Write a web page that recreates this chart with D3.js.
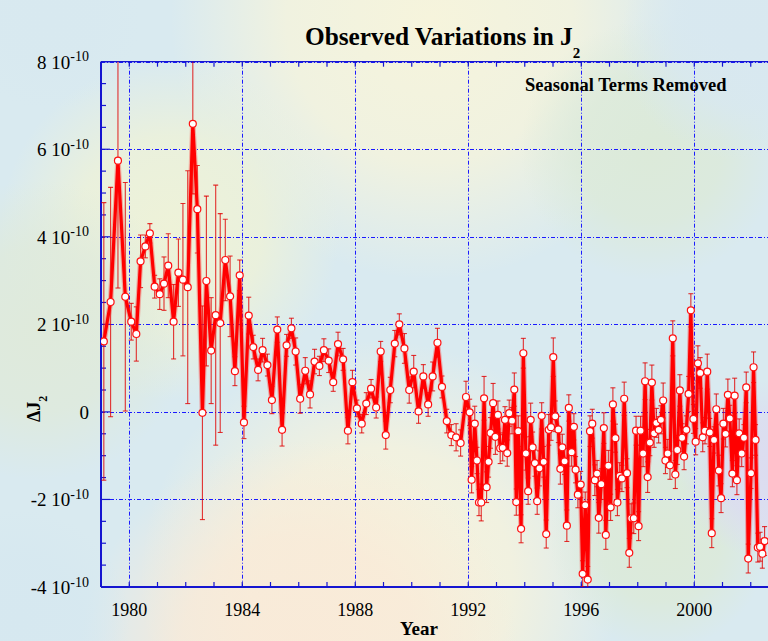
<!DOCTYPE html>
<html>
<head>
<meta charset="utf-8">
<script src="https://cdn.jsdelivr.net/npm/d3@7"></script>
<style>
	body { margin: 0; overflow: hidden; background: #d9eaf0; }
	text { font-family: "Liberation Serif", "Times New Roman", serif; }
</style>
</head>
<body>
<div class="container"></div>
<script>
// observation epochs (decimal year)
var years = [
	1979.10,1979.34,1979.60,1979.86,1980.07,1980.25,1980.40,1980.57,1980.73,1980.90,
	1981.08,1981.23,1981.38,1981.57,1981.74,1981.90,1982.07,1982.25,1982.41,1982.59,
	1982.73,1982.90,1983.06,1983.22,1983.40,1983.57,1983.74,1983.91,1984.06,1984.23,
	1984.39,1984.56,1984.72,1984.89,1985.05,1985.24,1985.41,1985.57,1985.74,1985.89,
	1986.05,1986.23,1986.40,1986.56,1986.73,1986.89,1987.06,1987.22,1987.39,1987.57,
	1987.74,1987.90,1988.06,1988.23,1988.39,1988.56,1988.74,1988.90,1989.08,1989.24,
	1989.40,1989.56,1989.74,1989.91,1990.07,1990.24,1990.41,1990.58,1990.74,1990.91,
	1991.07,1991.24,1991.40,1991.57,1991.73,
	1991.92,1992.05,1992.12,1992.23,1992.31,1992.38,1992.46,1992.56,1992.65,1992.72,
	1992.79,1992.88,1992.96,1993.05,1993.13,1993.22,1993.30,1993.38,1993.45,1993.55,
	1993.63,1993.70,1993.77,1993.87,1993.95,1994.04,1994.12,1994.21,1994.28,1994.36,
	1994.44,1994.52,1994.60,1994.67,1994.76,1994.85,1994.93,1995.01,1995.08,1995.19,
	1995.26,1995.33,1995.41,1995.49,1995.56,1995.66,1995.74,1995.80,1995.88,1995.98,
	1996.05,1996.14,1996.23,1996.31,1996.39,1996.48,1996.56,1996.62,1996.71,1996.80,
	1996.87,1996.96,1997.04,1997.12,1997.21,1997.28,1997.36,1997.44,1997.52,1997.62,
	1997.70,1997.77,1997.86,1997.94,1998.03,1998.10,1998.19,1998.26,1998.35,1998.43,
	1998.50,1998.58,1998.66,1998.74,1998.82,1998.90,1998.98,1999.06,1999.14,1999.24,
	1999.33,1999.40,1999.49,1999.57,1999.64,1999.72,1999.80,1999.88,1999.97,2000.05,
	2000.13,2000.21,2000.30,2000.38,2000.46,2000.55,2000.62,2000.70,2000.78,2000.87,
	2000.95,2001.03,2001.11,2001.19,2001.26,2001.35,2001.43,2001.51,2001.59,2001.68,
	2001.76,2001.84,2001.91,2002.01,2002.10,2002.17,2002.25,2002.33,2002.41,2002.49
];

// delta J2, units of 1e-10
var dJ2 = [
	1.61,2.51,5.74,2.63,2.06,1.78,3.44,3.78,4.08,2.86,
	2.69,2.93,3.34,2.06,3.18,3.02,2.85,6.58,4.63,-0.02,
	2.99,1.40,2.21,2.03,3.47,2.64,0.93,3.12,-0.24,2.20,
	1.48,0.96,1.41,1.07,0.27,1.88,-0.41,1.52,1.91,1.38,
	0.30,0.94,0.40,1.15,1.05,1.41,1.17,0.68,1.55,1.20,
	-0.43,0.68,0.08,-0.27,0.19,0.53,0.10,1.38,-0.53,0.50,
	1.56,2.00,1.45,0.50,0.92,0.01,0.81,0.17,0.81,1.58,
	0.57,-0.21,-0.53,-0.58,-0.71,
	0.34,-0.01,-1.55,-0.27,-1.11,-2.07,-2.07,0.31,-1.72,-1.14,
	-0.48,0.20,-0.57,-0.07,-0.83,-0.82,-0.18,-0.94,-0.03,-0.20,
	0.51,-2.06,-0.44,-2.67,1.34,-0.95,-1.81,-0.18,-0.81,-1.17,
	-2.04,-1.29,-0.09,-1.14,-2.79,-0.41,-0.35,1.25,-0.10,-0.40,
	-1.30,-0.81,-1.13,-2.60,0.09,-0.92,-0.34,-1.32,-1.89,-1.66,
	-3.70,-2.13,-3.83,-0.44,-0.27,-1.56,-1.41,-2.42,-1.65,-0.37,
	-2.81,-1.23,-2.18,0.17,-0.60,-2.07,-1.46,-1.52,0.30,-1.40,
	-3.22,-2.43,-2.43,-0.43,-2.61,-0.43,-0.95,0.70,-1.49,-0.70,
	0.67,-0.49,-0.25,-0.41,-0.18,0.26,-1.11,-0.95,-1.22,1.68,
	-1.43,-0.87,0.49,-0.59,-1.02,-0.41,0.41,2.32,-0.16,-0.68,
	1.11,0.89,-0.58,-0.43,0.92,-0.47,-2.77,-0.64,0.06,-1.34,
	-1.97,-0.27,-0.50,0.39,-0.15,-1.41,0.37,-1.56,-0.49,-0.95,
	-0.59,0.56,-3.35,-1.40,1.02,-0.64,-3.10,-3.08,-3.24,-2.95
];

// one-sigma error, units of 1e-10
var sigma = [
	3.17,2.62,2.91,2.61,0.42,0.62,0.60,0.26,0.22,0.26,
	0.35,0.61,0.73,0.85,0.77,1.74,2.66,1.60,1.00,2.44,
	1.94,1.21,2.97,2.50,0.93,0.92,0.33,0.35,0.37,0.42,
	0.27,0.25,0.27,0.25,0.31,0.29,0.37,0.25,0.23,0.31,
	0.33,0.30,0.31,0.28,0.22,0.26,0.27,0.21,0.27,0.25,
	0.30,0.27,0.19,0.21,0.25,0.21,0.24,0.23,0.32,0.29,
	0.30,0.24,0.34,0.30,0.37,0.27,0.27,0.27,0.33,0.33,
	0.25,0.27,0.24,0.31,0.30,
	0.36,0.30,0.30,0.40,0.30,0.30,0.42,0.50,0.35,0.35,
	0.35,0.45,0.40,0.32,0.35,0.30,0.30,0.30,0.30,0.30,
	0.38,0.30,0.35,0.32,0.34,0.38,0.30,0.38,0.35,0.30,
	0.30,0.40,0.30,0.35,0.32,0.35,0.30,0.44,0.35,0.30,
	0.35,0.30,0.30,0.36,0.30,0.32,0.30,0.30,0.30,0.30,
	0.30,0.30,0.30,0.35,0.33,0.35,0.30,0.35,0.35,0.35,
	0.33,0.35,0.30,0.38,0.32,0.30,0.30,0.30,0.38,0.33,
	0.33,0.33,0.35,0.33,0.33,0.33,0.30,0.42,0.35,0.30,
	0.40,0.32,0.33,0.30,0.32,0.40,0.30,0.32,0.32,0.40,
	0.32,0.33,0.36,0.32,0.30,0.32,0.40,0.38,0.33,0.30,
	0.40,0.35,0.33,0.30,0.40,0.32,0.33,0.30,0.35,0.35,
	0.33,0.35,0.30,0.36,0.30,0.30,0.40,0.33,0.33,0.30,
	0.30,0.35,0.33,0.35,0.35,0.35,0.33,0.33,0.33,0.33
];

var xMajor = [1980, 1984, 1988, 1992, 1996, 2000, 2004];
var xLabels = [1980, 1984, 1988, 1992, 1996, 2000];
var yMajor = [-4, -2, 0, 2, 4, 6, 8];

var W = 768, H = 641;
var plotL = 101, plotT = 61.7, plotB = 587;

var svg = d3.select('.container').append('svg')
	.attr('width', W)
	.attr('height', H)
	.style('display', 'block');

// ---- mottled pastel backdrop
var defs = svg.append('defs');
var blobs = [
	{x: 430, y: 20, r: 260, c: '#f6f4dc'},
	{x: 170, y: 230, r: 170, c: '#eef2d8'},
	{x: 40, y: 330, r: 150, c: '#dfeadb'},
	{x: 650, y: 150, r: 130, c: '#dcead9'},
	{x: 740, y: 40, r: 120, c: '#d8e8f0'},
	{x: 380, y: 580, r: 240, c: '#f7f3dc'},
	{x: 300, y: 660, r: 220, c: '#f9ead8'},
	{x: 660, y: 540, r: 110, c: '#dcead8'},
	{x: 770, y: 470, r: 90, c: '#dcdcf0'},
	{x: 20, y: 620, r: 110, c: '#d6e8f0'},
	{x: 50, y: 20, r: 90, c: '#d8e9f0'}
];
blobs.forEach(function(b, i) {
	var g = defs.append('radialGradient').attr('id', 'blob' + i);
	g.append('stop').attr('offset', '0%').attr('stop-color', b.c).attr('stop-opacity', 1);
	g.append('stop').attr('offset', '55%').attr('stop-color', b.c).attr('stop-opacity', 0.8);
	g.append('stop').attr('offset', '100%').attr('stop-color', b.c).attr('stop-opacity', 0);
});
svg.append('rect').attr('width', W).attr('height', H).attr('fill', '#d9eaf0');
svg.selectAll('.blob').data(blobs).enter().append('circle')
	.attr('cx', function(d) { return d.x; })
	.attr('cy', function(d) { return d.y; })
	.attr('r', function(d) { return d.r; })
	.attr('fill', function(d, i) { return 'url(#blob' + i + ')'; });

// ---- scales
var x = d3.scaleLinear().domain([1979, 2004]).range([plotL, plotL + 25 * 28.25]);
var y = d3.scaleLinear().domain([-4, 8]).range([plotB, plotT]);

var blue = '#1515d0';

// grid
var grid = svg.append('g').attr('stroke', '#1a1aff').attr('stroke-width', 1)
	.attr('stroke-dasharray', '4,2,1,2');
grid.selectAll('.gx').data(xMajor).enter().append('line')
	.attr('x1', function(d) { return Math.round(x(d)) + 0.5; })
	.attr('x2', function(d) { return Math.round(x(d)) + 0.5; })
	.attr('y1', plotT).attr('y2', plotB);
grid.selectAll('.gy').data(yMajor).enter().append('line')
	.attr('x1', plotL).attr('x2', W)
	.attr('y1', function(d) { return Math.round(y(d)) + 0.5; })
	.attr('y2', function(d) { return Math.round(y(d)) + 0.5; });

// minor ticks
var ticks = svg.append('g').attr('stroke', blue).attr('stroke-width', 1.2);
var xMinor = d3.range(1979, 2005);
ticks.selectAll('.tb').data(xMinor).enter().append('line')
	.attr('x1', function(d) { return x(d); }).attr('x2', function(d) { return x(d); })
	.attr('y1', plotB).attr('y2', plotB - 5);
ticks.selectAll('.tt').data(xMinor).enter().append('line')
	.attr('x1', function(d) { return x(d); }).attr('x2', function(d) { return x(d); })
	.attr('y1', plotT).attr('y2', plotT + 5);
var yMinor = d3.range(-4, 8.01, 0.5);
ticks.selectAll('.tl').data(yMinor).enter().append('line')
	.attr('x1', plotL).attr('x2', function(d) { return plotL + (d % 2 === 0 ? 9 : 5); })
	.attr('y1', function(d) { return y(d); }).attr('y2', function(d) { return y(d); });

// frame
svg.append('line').attr('x1', plotL).attr('x2', W).attr('y1', plotB).attr('y2', plotB)
	.attr('stroke', blue).attr('stroke-width', 2);
svg.append('line').attr('x1', plotL).attr('x2', plotL).attr('y1', plotT).attr('y2', plotB)
	.attr('stroke', blue).attr('stroke-width', 2);
svg.append('line').attr('x1', plotL).attr('x2', W).attr('y1', plotT).attr('y2', plotT)
	.attr('stroke', blue).attr('stroke-width', 1.2);

// ---- data
var data = years.map(function(t, i) { return {t: t, v: dJ2[i], e: sigma[i]}; });

defs.append('clipPath').attr('id', 'plotclip').append('rect')
	.attr('x', plotL).attr('y', plotT).attr('width', W - plotL).attr('height', plotB - plotT);
var plot = svg.append('g').attr('clip-path', 'url(#plotclip)');

var eb = plot.append('g').attr('stroke', '#e00000').attr('stroke-opacity', 0.8).attr('stroke-width', 1.1);
eb.selectAll('.ev').data(data).enter().append('line')
	.attr('x1', function(d) { return x(d.t); }).attr('x2', function(d) { return x(d.t); })
	.attr('y1', function(d) { return y(d.v + d.e); }).attr('y2', function(d) { return y(d.v - d.e); });
eb.selectAll('.eh').data(data).enter().append('line')
	.attr('x1', function(d) { return x(d.t) - 2.5; }).attr('x2', function(d) { return x(d.t) + 2.5; })
	.attr('y1', function(d) { return y(d.v + d.e); }).attr('y2', function(d) { return y(d.v + d.e); });
eb.selectAll('.el').data(data).enter().append('line')
	.attr('x1', function(d) { return x(d.t) - 2.5; }).attr('x2', function(d) { return x(d.t) + 2.5; })
	.attr('y1', function(d) { return y(d.v - d.e); }).attr('y2', function(d) { return y(d.v - d.e); });

var line = d3.line().x(function(d) { return x(d.t); }).y(function(d) { return y(d.v); });
plot.append('path').datum(data).attr('d', line)
	.attr('fill', 'none').attr('stroke', '#ff3030').attr('stroke-opacity', 0.35)
	.attr('stroke-width', 5.5).attr('stroke-linejoin', 'round');
plot.append('path').datum(data).attr('d', line)
	.attr('fill', 'none').attr('stroke', '#ff0000')
	.attr('stroke-width', 3.2).attr('stroke-linejoin', 'round');

plot.selectAll('.pt').data(data).enter().append('circle')
	.attr('cx', function(d) { return x(d.t); })
	.attr('cy', function(d) { return y(d.v); })
	.attr('r', 3.5)
	.attr('fill', '#ffffff')
	.attr('stroke', '#ff1010')
	.attr('stroke-width', 1.2);

// ---- labels
var yl = svg.append('g').attr('fill', '#000');
yMajor.forEach(function(v) {
	var t = yl.append('text').attr('x', 89).attr('y', y(v) + 7)
		.attr('text-anchor', 'end').style('font-size', '19px');
	if (v === 0) {
		t.text('0');
	} else {
		t.append('tspan').text(v + ' 10');
		t.append('tspan').attr('dy', -7.5).style('font-size', '14px').text('-10');
	}
});

svg.selectAll('.xl').data(xLabels).enter().append('text')
	.attr('x', function(d) { return x(d); })
	.attr('y', 616)
	.attr('text-anchor', 'middle')
	.style('font-size', '18px')
	.text(function(d) { return d; });

svg.append('text').attr('x', 419).attr('y', 635).attr('text-anchor', 'middle')
	.style('font-size', '19px').style('font-weight', 'bold').text('Year');

var title = svg.append('text').attr('x', 305).attr('y', 45)
	.style('font-size', '25.3px').style('font-weight', 'bold');
title.append('tspan').text('Observed Variations in J');
title.append('tspan').attr('dy', 13).style('font-size', '15px').text('2');

svg.append('text').attr('x', 525).attr('y', 91)
	.style('font-size', '18.5px').style('font-weight', 'bold').text('Seasonal Terms Removed');

var ylab = svg.append('text').attr('transform', 'translate(40,422) rotate(-90)')
	.style('font-size', '18px').style('font-weight', 'bold');
ylab.append('tspan').text('\u0394J');
ylab.append('tspan').attr('dy', 7).style('font-size', '12px').text('2');
</script>
</body>
</html>
